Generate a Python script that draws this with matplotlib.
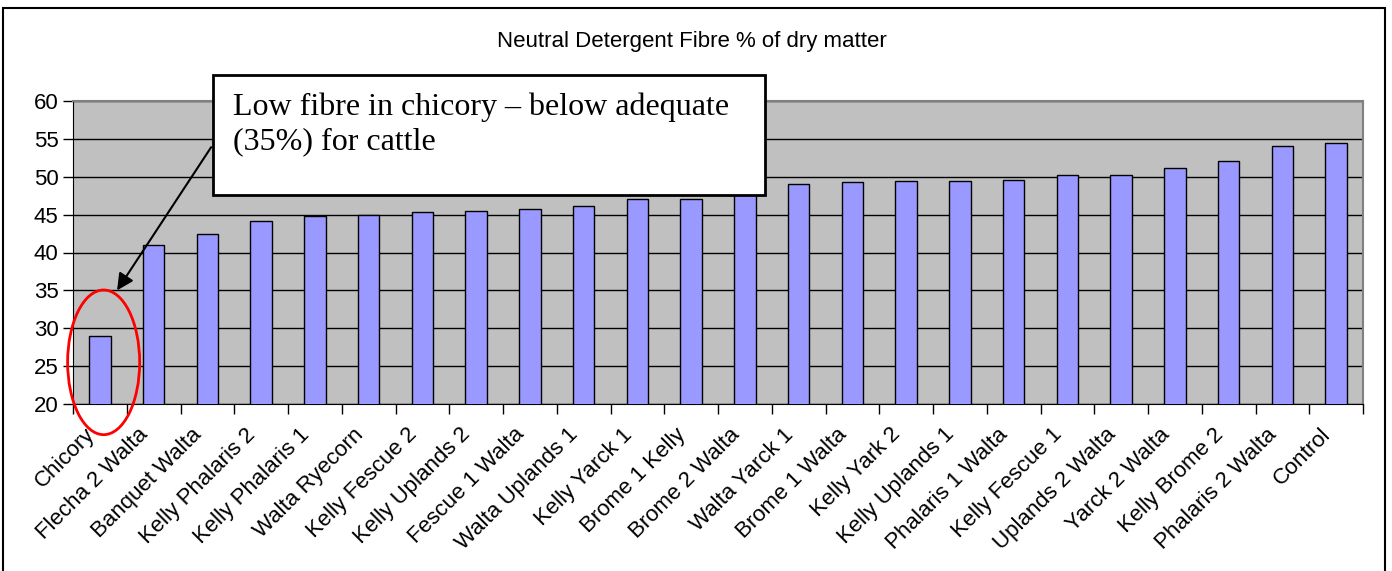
import matplotlib.pyplot as plt
import matplotlib.transforms as mtransforms
import numpy as np
from matplotlib.patches import Rectangle, Ellipse

# Data
categories = ["Chicory", "Flecha 2 Walta", "Banquet Walta", "Kelly Phalaris 2",
              "Kelly Phalaris 1", "Walta Ryecorn", "Kelly Fescue 2", "Kelly Uplands 2",
              "Fescue 1 Walta", "Walta Uplands 1", "Kelly Yarck 1", "Brome 1 Kelly",
              "Brome 2 Walta", "Walta Yarck 1", "Brome 1 Walta", "Kelly Yark 2",
              "Kelly Uplands 1", "Phalaris 1 Walta", "Kelly Fescue 1", "Uplands 2 Walta",
              "Yarck 2 Walta", "Kelly Brome 2", "Phalaris 2 Walta", "Control"]
ndf = [29.0, 41.0, 42.5, 44.2, 44.8, 45.0, 45.3, 45.5, 45.7, 46.1, 47.0, 47.0,
       48.3, 49.1, 49.3, 49.5, 49.5, 49.6, 50.2, 50.2, 51.1, 52.1, 54.0, 54.5]
yticks = [20, 25, 30, 35, 40, 45, 50, 55, 60]

W, H = 1392, 571
fig = plt.figure(figsize=(W / 100, H / 100), dpi=100)
ax = fig.add_axes([73 / W, 1 - 404 / H, (1363 - 73) / W, (404 - 101) / H])

x = np.arange(len(categories))
ax.set_facecolor("#C0C0C0")
ax.bar(x, ndf, width=0.4, color="#9999FF", edgecolor="black", linewidth=1, zorder=3)

ax.set_xlim(-0.5, len(categories) - 0.5)
ax.set_ylim(20, 60)
ax.set_yticks(yticks)
ax.yaxis.grid(True, color="black", linewidth=1, zorder=1)
ax.set_axisbelow(True)

# category labels: ticks sit between the bars, labels hang down-left of each bar
ax.set_xticks(np.arange(len(categories) + 1) - 0.5)
ax.set_xticklabels([])
ax.tick_params(axis="x", length=7, width=1, direction="out")
lab_trans = mtransforms.blended_transform_factory(ax.transData, ax.transAxes) + \
    mtransforms.ScaledTranslation(-0.16, -0.20, fig.dpi_scale_trans)
for i, name in enumerate(categories):
    ax.text(i, 0, name, transform=lab_trans, rotation=45, ha="right", va="top",
            rotation_mode="anchor", fontsize=16, family="Liberation Sans")

ax.tick_params(axis="y", length=7, width=1, direction="out", labelsize=16)
for lab in ax.get_yticklabels():
    lab.set_family("Liberation Sans")

for s in ["top", "right"]:
    ax.spines[s].set_color("#808080")
    ax.spines[s].set_linewidth(1.5)
for s in ["left", "bottom"]:
    ax.spines[s].set_color("black")

fig.text(692 / W, 1 - 41 / H, "Neutral Detergent Fibre % of dry matter",
         ha="center", va="center", fontsize=16, family="Liberation Sans")

# outer chart border
fig.add_artist(Rectangle((3 / W, -0.01), (1385 - 3) / W, 1.01 - 8 / H,
                         transform=fig.transFigure, fill=False,
                         edgecolor="black", linewidth=1.5))

# red ellipse around chicory
ax.add_patch(Ellipse((0.07, 25.5), 1.34, 19.1, fill=False, edgecolor="red",
                     linewidth=2, clip_on=False, zorder=5))

# arrow
ax.annotate("", xy=(0.32, 35.0), xytext=(2.07, 53.9),
            arrowprops=dict(arrowstyle="-|>", color="black", lw=1.5,
                            mutation_scale=25, shrinkA=0, shrinkB=0),
            zorder=6, annotation_clip=False)

# callout box
fig.add_artist(Rectangle((213 / W, 1 - 195 / H), (765 - 213) / W, 120 / H,
                         transform=fig.transFigure, facecolor="white",
                         edgecolor="black", linewidth=2, zorder=10))
fig.text(233 / W, 1 - 92 / H,
         "Low fibre in chicory \u2013 below adequate\n(35%) for cattle",
         ha="left", va="top", fontsize=23, family="Liberation Serif",
         linespacing=1.27, zorder=11)

plt.savefig("out.png", dpi=100)
